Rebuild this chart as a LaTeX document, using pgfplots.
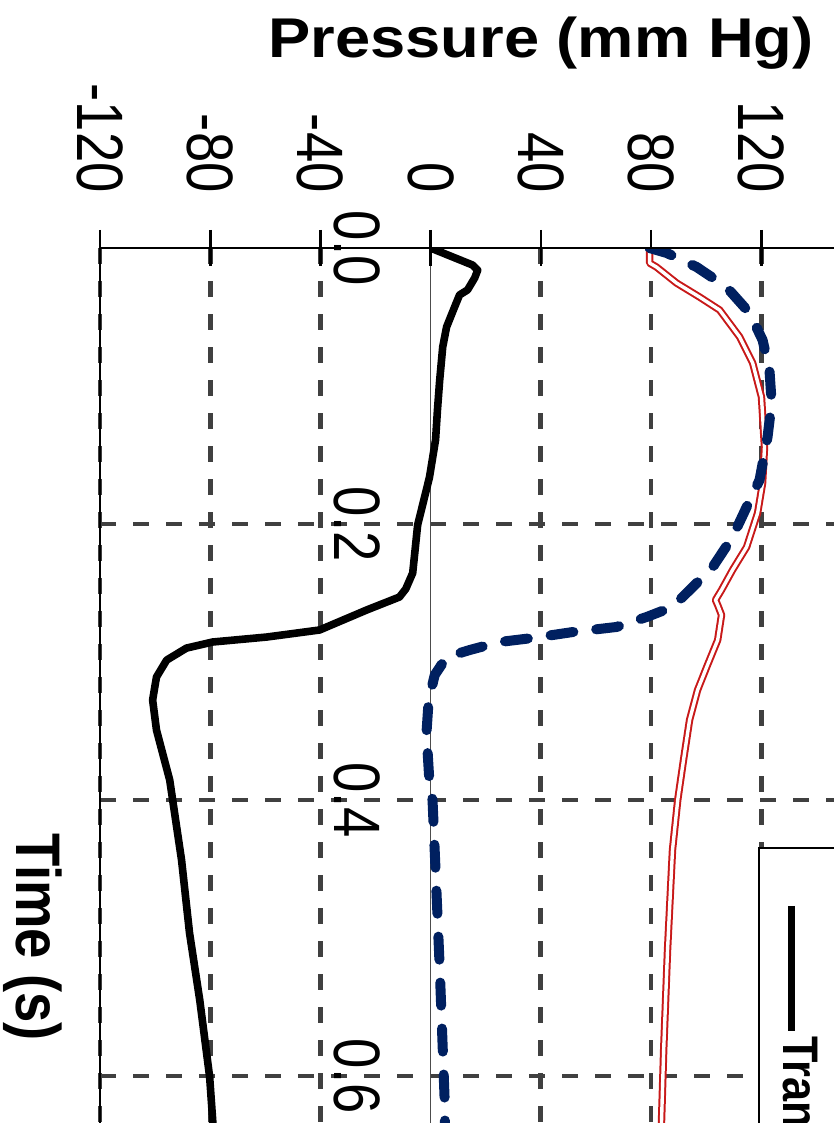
\documentclass[border=0pt]{standalone}
\usepackage{pgfplots}
\pgfplotsset{compat=1.18}
\usepackage{fontspec}
\setmainfont{Liberation Sans}
\newfontfamily\tickfont[FakeStretch=0.83]{Liberation Sans}
\newfontfamily\presfont[FakeStretch=1.13]{Liberation Sans}
\newfontfamily\timefont[FakeStretch=0.865]{Liberation Sans}
\definecolor{navyc}{RGB}{0,32,96}
\definecolor{redc}{RGB}{200,25,25}
\definecolor{gridc}{RGB}{64,64,64}
\begin{document}
\begin{tikzpicture}
\useasboundingbox (-50pt,114.5pt) rectangle (367pt,676pt);
\clip (-50pt,114.5pt) rectangle (367pt,676pt);
\begin{axis}[
  at={(0pt,0pt)}, anchor=south west,
  scale only axis, width=385.7pt, height=552pt,
  xmin=-120, xmax=160, ymin=0, ymax=0.8, y dir=reverse,
  xtick={-120,-80,-40,40,80,120},
  extra x ticks={0},
  extra x tick style={major grid style={solid, line width=0.8pt, black!70}},
  ytick={0.2,0.4,0.6},
  extra y ticks={0},
  extra y tick style={grid=none},
  hide obscured x ticks=false,
  grid=major,
  major grid style={gridc, line width=2.4pt, dash pattern=on 8pt off 8.5pt},
  xtick pos=both,
  xticklabel pos=right,
  ytick style={draw=none},
  tick align=center,
  major tick length=18pt,
  xtick style={draw=black, line width=1.3pt},
  axis line style={line width=1.1pt},
  /pgf/number format/assume math mode=true,
  xticklabel style={font=\tickfont\fontsize{32.8pt}{33pt}\selectfont, rotate=-90, anchor=east, inner sep=0pt},
  xticklabel shift=18.5pt,
  yticklabel style={font=\tickfont\fontsize{32.8pt}{33pt}\selectfont, rotate=-90, anchor=base, inner sep=0pt,
     /pgf/number format/.cd, fixed, fixed zerofill, precision=1},
  yticklabel shift=-126pt,
]
\addplot[redc, line width=1pt, double=white, double distance=1.7pt, line join=round] coordinates {
(79.5,0) (79.5,0.0109) (82.0,0.0138) (89.3,0.0254) (97.6,0.0355) (104.9,0.0449) (112.2,0.0645)
(116.9,0.0833) (120.1,0.108) (121.2,0.1442) (120.5,0.1703) (118.7,0.192) (114.7,0.2167)
(109.6,0.2333) (105.6,0.2478) (103.4,0.2551) (104.2,0.2587) (105.6,0.2659) (104.2,0.2841)
(100.5,0.3022) (96.9,0.3203) (94.0,0.342) (91.8,0.371) (89.7,0.4) (87.8,0.4362) (86.0,0.5087)
(84.6,0.5812) (83.8,0.634) (83.5,0.66)};
\addplot[navyc, line width=5pt, dash pattern=on 11.5pt off 11.5pt, line cap=round, line join=round] coordinates {
(79.5,0) (85.7,0.0036) (96.6,0.0138) (107.4,0.0283) (115.8,0.0471) (120.5,0.0667) (123.0,0.0884)
(123.8,0.1123) (122.3,0.137) (119.4,0.1681) (114.7,0.1877) (109.6,0.2094) (102.4,0.2312)
(96.6,0.2428) (87.8,0.2601) (78.4,0.2674) (67.5,0.2746) (51.5,0.2783) (37.0,0.2826) (25.0,0.2855)
(14.2,0.2913) (5.8,0.2964) (1.5,0.3094) (-0.7,0.3275) (-1.5,0.3514) (-0.4,0.3877) (0.7,0.4)
(3.3,0.521) (5.1,0.6174) (5.4,0.66)};
\addplot[black, line width=3.8pt, line join=round] coordinates {
(0,0) (15.2,0.0123) (17.1,0.016) (16.0,0.0217) (13.4,0.0304) (10.5,0.034) (8.7,0.0428)
(5.8,0.0572) (4.4,0.0717) (3.3,0.0957) (2.5,0.117) (1.8,0.139) (-0.4,0.166) (-4.7,0.2007)
(-6.5,0.2355) (-9.0,0.247) (-11.3,0.2529) (-23.2,0.2623) (-40.3,0.2768) (-59.5,0.2819)
(-79.1,0.2855) (-88.6,0.2899) (-95.8,0.2986) (-99.5,0.3109) (-100.9,0.3275) (-99.5,0.3493)
(-94.7,0.3855) (-90.4,0.4435) (-87.5,0.4964) (-83.8,0.5449) (-80.2,0.6007) (-79.1,0.6319) (-78.5,0.66)};
\end{axis}
% overlay axis that only carries the outward tick marks on the top line
\begin{axis}[
  at={(0pt,0pt)}, anchor=south west,
  scale only axis, width=385.7pt, height=552pt,
  xmin=-120, xmax=160, ymin=0, ymax=1,
  axis x line*=top, axis y line=none,
  xtick={-120,-80,-40,0,40,80,120},
  xticklabels={},
  hide obscured x ticks=false,
  tick align=outside,
  major tick length=9pt,
  xtick style={draw=black, line width=1.3pt},
  x axis line style={line width=1.1pt, -},
]
\end{axis}
\node[rotate=-90, anchor=south west, draw=black, line width=0.8pt, fill=white, inner xsep=29pt, inner ysep=12pt,
  font=\timefont\bfseries\fontsize{25pt}{25pt}\selectfont] at (329pt,252.5pt)
  {\rule[2.1pt]{62.5pt}{3.8pt}\hspace{3pt}Transvalvular};
\node[anchor=base, font=\presfont\bfseries\fontsize{28pt}{28pt}\selectfont] at (220.5pt,647pt) {Pressure (mm Hg)};
\node[anchor=base, rotate=-90, font=\timefont\bfseries\fontsize{31.5pt}{31.5pt}\selectfont] at (-41.5pt,207.5pt) {Time (s)};
\end{tikzpicture}
\end{document}
